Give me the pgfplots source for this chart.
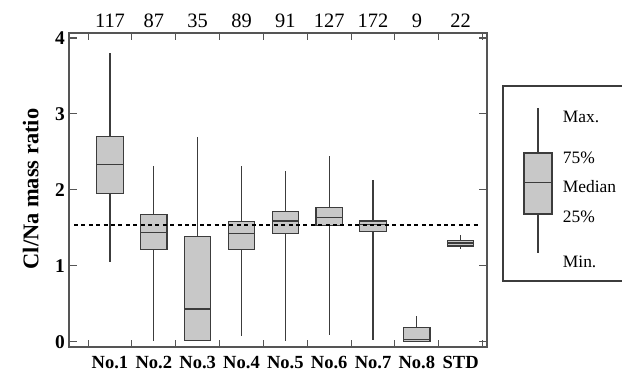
\documentclass[border=0pt]{standalone}
\usepackage{pgfplots}
\pgfplotsset{compat=1.18}
\usepgfplotslibrary{statistics}
\usepackage{fontspec}
\setmainfont{Liberation Serif}
\definecolor{boxfill}{RGB}{200,200,200}
\definecolor{edge}{RGB}{60,60,60}
\definecolor{axcol}{RGB}{85,85,85}
\pgfplotsset{
  mybox/.style={boxplot prepared={#1}, fill=boxfill, draw=edge, line width=1.1bp, solid, mark=none},
  boxplot/draw direction=y,
  boxplot/box extend=0.6,
  boxplot/whisker extend=0,
}
\begin{document}
\begin{tikzpicture}
\path[use as bounding box] (0,0) rectangle (622bp,371bp);
\begin{axis}[
  at={(69bp,24bp)}, anchor=south west, scale only axis,
  width=418bp, height=314bp,
  xmin=0.065, xmax=9.60, ymin=-0.070, ymax=4.066,
  axis line style={draw=axcol, line width=1.1bp},
  tick style={draw=axcol, line width=1.1bp},
  major tick length=8bp, minor tick length=7bp,
  xtick={1,2,3,4,5,6,7,8,9},
  xticklabels={No.1,No.2,No.3,No.4,No.5,No.6,No.7,No.8,STD},
  major x tick style={draw=none},
  minor xtick={0.5,1.5,2.5,3.5,4.5,5.5,6.5,7.5,8.5,9.5},
  ytick={0,1,2,3,4},
  /pgf/number format/assume math mode=true,
  xticklabel style={font=\bfseries\fontsize{18.6}{18.6}\selectfont, anchor=base, yshift=-21.5bp, inner sep=0pt},
  yticklabel style={font=\bfseries\fontsize{19.5}{19.5}\selectfont, inner sep=0pt, xshift=-4bp},
  clip=false,
]
\addplot[mybox={lower whisker=1.05, lower quartile=1.95, median=2.33, upper quartile=2.70, upper whisker=3.80, draw position=1}] coordinates {};
\addplot[mybox={lower whisker=0.01, lower quartile=1.22, median=1.44, upper quartile=1.67, upper whisker=2.32, draw position=2}] coordinates {};
\addplot[mybox={lower whisker=0.01, lower quartile=0.01, median=0.43, upper quartile=1.38, upper whisker=2.70, draw position=3}] coordinates {};
\addplot[mybox={lower whisker=0.08, lower quartile=1.22, median=1.43, upper quartile=1.58, upper whisker=2.31, draw position=4}] coordinates {};
\addplot[mybox={lower whisker=0.01, lower quartile=1.43, median=1.59, upper quartile=1.71, upper whisker=2.25, draw position=5}] coordinates {};
\addplot[mybox={lower whisker=0.09, lower quartile=1.53, median=1.63, upper quartile=1.77, upper whisker=2.44, draw position=6}] coordinates {};
\addplot[mybox={lower whisker=0.02, lower quartile=1.45, median=1.54, upper quartile=1.59, upper whisker=2.13, draw position=7}] coordinates {};
\addplot[mybox={lower whisker=0.00, lower quartile=0.00, median=0.03, upper quartile=0.19, upper whisker=0.34, draw position=8}] coordinates {};
\addplot[mybox={lower whisker=1.22, lower quartile=1.26, median=1.30, upper quartile=1.33, upper whisker=1.40, draw position=9}] coordinates {};
\addplot[black, line width=2.3bp, dash pattern=on 4bp off 3.4bp, mark=none] coordinates {(0.18,1.54) (9.40,1.54)};
\begin{scope}[every node/.style={anchor=base, yshift=5.7bp, font=\fontsize{20.5}{20.5}\selectfont, inner sep=0pt}]
\node at (axis cs:1,4.066) {117};
\node at (axis cs:2,4.066) {87};
\node at (axis cs:3,4.066) {35};
\node at (axis cs:4,4.066) {89};
\node at (axis cs:5,4.066) {91};
\node at (axis cs:6,4.066) {127};
\node at (axis cs:7,4.066) {172};
\node at (axis cs:8,4.066) {9};
\node at (axis cs:9,4.066) {22};
\end{scope}
\node[rotate=90, font=\bfseries\fontsize{22.5}{22.5}\selectfont, inner sep=0pt] at (rel axis cs:-0.0916,0.503) {Cl/Na mass ratio};
\end{axis}
\begin{axis}[
  at={(503bp,90bp)}, anchor=south west, scale only axis,
  width=121bp, height=195bp,
  xmin=0, xmax=121, ymin=0, ymax=195,
  xtick=\empty, ytick=\empty,
  axis line style={draw=edge, line width=1.1bp},
  boxplot/box extend=28,
  clip=false,
]
\addplot[mybox={lower whisker=28.3, lower quartile=67, median=98.3, upper quartile=128, upper whisker=173, draw position=35}] coordinates {};
\begin{scope}[every node/.style={anchor=west, font=\fontsize{17.5}{17.5}\selectfont, inner sep=0pt}]
\node at (axis cs:59.7,164.3) {Max.};
\node at (axis cs:59.7,123) {75\%};
\node at (axis cs:59.7,94) {Median};
\node at (axis cs:59.7,64.3) {25\%};
\node at (axis cs:59.7,19.3) {Min.};
\end{scope}
\end{axis}
\end{tikzpicture}
\end{document}
